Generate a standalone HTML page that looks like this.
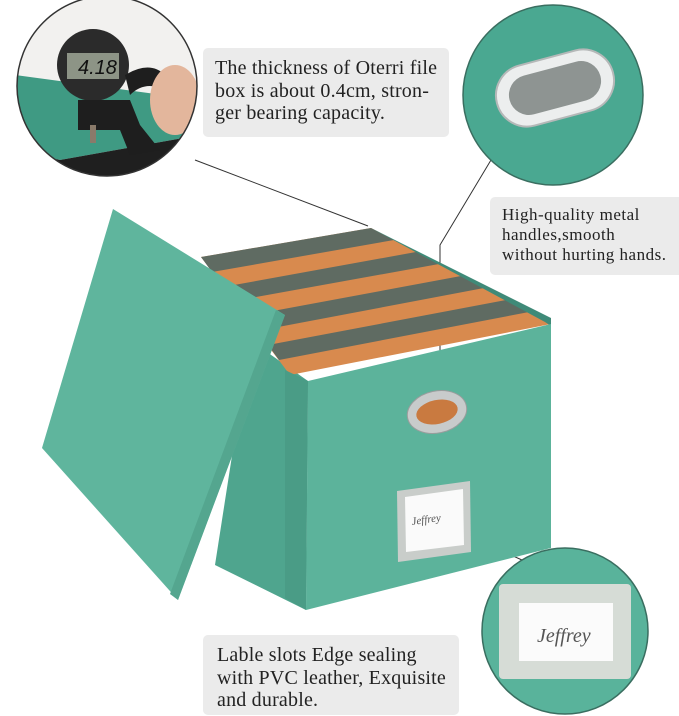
<!DOCTYPE html>
<html><head><meta charset="utf-8"><style>
html,body{margin:0;padding:0;background:#fff;}
body{width:679px;height:716px;overflow:hidden;position:relative;font-family:"Liberation Serif",serif;}
.tb{position:absolute;background:#ebebeb;border-radius:5px;color:#222;}
</style></head><body>
<svg width="679" height="716" style="position:absolute;left:0;top:0">
<defs>
<clipPath id="c1"><circle cx="107" cy="86" r="90"/></clipPath>
<clipPath id="c2"><circle cx="553" cy="95" r="90"/></clipPath>
<clipPath id="c3"><circle cx="565" cy="631" r="83"/></clipPath>
</defs>
<line x1="195" y1="160" x2="368" y2="226" stroke="#333" stroke-width="1"/>
<polyline points="491,160 440,245 440,405" fill="none" stroke="#333" stroke-width="1"/>
<line x1="466" y1="535" x2="522" y2="560" stroke="#333" stroke-width="1"/>

<polygon points="250,340 308,381 306,610 215,565" fill="#4fa58e"/>
<polygon points="201,257 371,228 551,324 290,375" fill="#d88a4e"/>
<polygon points="201,257 371,228 394,240 212,272" fill="#5f6b62"/>
<polygon points="223,287 416,252 439,264 234,301" fill="#5f6b62"/>
<polygon points="246,316 461,276 484,288 257,331" fill="#5f6b62"/>
<polygon points="268,345 506,300 529,312 279,360" fill="#5f6b62"/>
<polygon points="371,228 551,318 551,326 545,322" fill="#3f8a78"/>
<polygon points="308,381 551,324 551,548 306,610" fill="#5cb39b"/>
<polygon points="285,370 308,381 306,610 285,598" fill="#4a9c86"/>
<g transform="rotate(-12 437 412)">
<ellipse cx="437" cy="412" rx="30" ry="21" fill="#c8cbcb" stroke="#9a9d9d"/>
<ellipse cx="437" cy="412" rx="21" ry="12" fill="#c97a40"/>
</g>
<polygon points="397,491 470,481 471,552 398,562" fill="#c9cdca"/>
<polygon points="405,497 463,489 464,545 406,552" fill="#fafafa"/>
<text x="412" y="525" font-size="11" fill="#555" font-style="italic" transform="rotate(-8 412 525)">Jeffrey</text>
<polygon points="113,209 285,315 178,600 42,448" fill="#5fb59d"/>
<polygon points="276,310 285,315 178,600 170,594" fill="#54a68f"/>

<!-- circle 1 -->
<g clip-path="url(#c1)">
<rect x="0" y="0" width="200" height="200" fill="#f2f1ef"/>
<polygon points="15,75 200,100 200,135 60,160 15,150" fill="#3f9a83"/>
<polygon points="15,150 60,160 200,135 200,180 15,180" fill="#1f1f1f"/>
<circle cx="93" cy="65" r="36" fill="#2b2b2b"/>
<rect x="67" y="53" width="52" height="26" fill="#8d9486"/>
<text x="78" y="74" font-family="Liberation Sans,sans-serif" font-size="20" fill="#111" font-style="italic">4.18</text>
<polygon points="78,100 130,100 140,125 160,150 130,155 120,130 78,130" fill="#1e1e1e"/>
<path d="M125,75 Q150,60 165,75 L165,90 Q145,80 130,95 Z" fill="#1e1e1e"/>
<ellipse cx="175" cy="100" rx="25" ry="35" fill="#e3b69c"/>
<rect x="90" y="125" width="6" height="18" fill="#8a7a6a"/>
</g>
<circle cx="107" cy="86" r="90" fill="none" stroke="#333" stroke-width="1.5"/>

<!-- circle 2 -->
<g clip-path="url(#c2)">
<rect x="460" y="0" width="220" height="200" fill="#4aa891"/>
<g transform="rotate(-15 555 88)">
<rect x="495" y="57" width="120" height="62" rx="31" fill="#eceeee" stroke="#b5b8b8" stroke-width="2"/>
<rect x="508" y="68" width="94" height="40" rx="20" fill="#8e9492"/>
</g>
</g>
<circle cx="553" cy="95" r="90" fill="none" stroke="#3a6e60" stroke-width="1.5"/>

<!-- circle 3 -->
<g clip-path="url(#c3)">
<rect x="470" y="540" width="200" height="180" fill="#59b39b"/>
<rect x="499" y="584" width="132" height="95" rx="4" fill="#d6dcd6"/>
<rect x="519" y="603" width="94" height="58" fill="#fbfbfb"/>
<text x="537" y="642" font-size="20" fill="#555" font-style="italic">Jeffrey</text>
</g>
<circle cx="565" cy="631" r="83" fill="none" stroke="#3a6e60" stroke-width="1.5"/>
</svg>

<div class="tb" style="left:203px;top:48px;width:246px;height:89px;">
<div style="position:absolute;left:12px;top:9px;font-size:20px;line-height:22.5px;letter-spacing:0.2px;white-space:nowrap;">The thickness of Oterri file<br>box is about 0.4cm, stron-<br>ger bearing capacity.</div></div>
<div class="tb" style="left:490px;top:197px;width:195px;height:78px;">
<div style="position:absolute;left:12px;top:8px;font-size:17px;line-height:20px;letter-spacing:0.5px;white-space:nowrap;">High-quality metal<br>handles,smooth<br>without hurting hands.</div></div>
<div class="tb" style="left:203px;top:635px;width:256px;height:80px;">
<div style="position:absolute;left:14px;top:9px;font-size:20px;line-height:22.5px;letter-spacing:0.2px;white-space:nowrap;">Lable slots Edge sealing<br>with PVC leather, Exquisite<br>and durable.</div></div>
</body></html>
